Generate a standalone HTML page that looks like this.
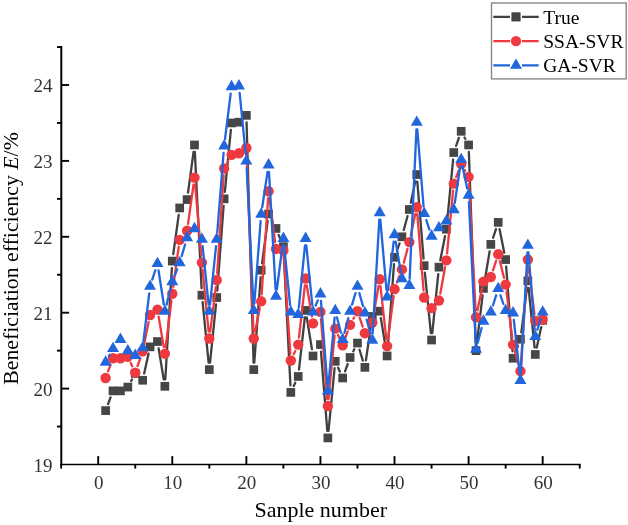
<!DOCTYPE html>
<html><head><meta charset="utf-8"><style>
html,body{margin:0;padding:0;background:#fff;}
body{width:628px;height:525px;overflow:hidden;font-family:"Liberation Serif",serif;}
svg{display:block;font-variant-ligatures:none;will-change:transform;}
text{font-variant-ligatures:none;}
</style></head><body><svg width="628" height="525" viewBox="0 0 628 525"><g stroke="#000" fill="none"><line x1="61.3" y1="46.1" x2="61.3" y2="465.3" stroke-width="2"/><line x1="60.3" y1="464.5" x2="580.6" y2="464.5" stroke-width="1.6"/><line x1="61.3" y1="388.60" x2="69.1" y2="388.60" stroke-width="1.9"/><line x1="61.3" y1="312.70" x2="69.1" y2="312.70" stroke-width="1.9"/><line x1="61.3" y1="236.80" x2="69.1" y2="236.80" stroke-width="1.9"/><line x1="61.3" y1="160.90" x2="69.1" y2="160.90" stroke-width="1.9"/><line x1="61.3" y1="85.00" x2="69.1" y2="85.00" stroke-width="1.9"/><line x1="61.3" y1="426.55" x2="57" y2="426.55" stroke-width="1.9"/><line x1="61.3" y1="350.65" x2="57" y2="350.65" stroke-width="1.9"/><line x1="61.3" y1="274.75" x2="57" y2="274.75" stroke-width="1.9"/><line x1="61.3" y1="198.85" x2="57" y2="198.85" stroke-width="1.9"/><line x1="61.3" y1="122.95" x2="57" y2="122.95" stroke-width="1.9"/><line x1="61.3" y1="47.05" x2="57" y2="47.05" stroke-width="1.9"/><line x1="98.20" y1="464.5" x2="98.20" y2="456.1" stroke-width="1.9"/><line x1="172.28" y1="464.5" x2="172.28" y2="456.1" stroke-width="1.9"/><line x1="246.36" y1="464.5" x2="246.36" y2="456.1" stroke-width="1.9"/><line x1="320.44" y1="464.5" x2="320.44" y2="456.1" stroke-width="1.9"/><line x1="394.52" y1="464.5" x2="394.52" y2="456.1" stroke-width="1.9"/><line x1="468.60" y1="464.5" x2="468.60" y2="456.1" stroke-width="1.9"/><line x1="542.68" y1="464.5" x2="542.68" y2="456.1" stroke-width="1.9"/><line x1="61.16" y1="464.5" x2="61.16" y2="468.6" stroke-width="1.9"/><line x1="135.24" y1="464.5" x2="135.24" y2="468.6" stroke-width="1.9"/><line x1="209.32" y1="464.5" x2="209.32" y2="468.6" stroke-width="1.9"/><line x1="283.40" y1="464.5" x2="283.40" y2="468.6" stroke-width="1.9"/><line x1="357.48" y1="464.5" x2="357.48" y2="468.6" stroke-width="1.9"/><line x1="431.56" y1="464.5" x2="431.56" y2="468.6" stroke-width="1.9"/><line x1="505.64" y1="464.5" x2="505.64" y2="468.6" stroke-width="1.9"/><line x1="579.72" y1="464.5" x2="579.72" y2="468.6" stroke-width="1.9"/></g><g font-family="Liberation Serif" font-size="19" fill="#333"><text x="52.5" y="471.82" text-anchor="end">19</text><text x="52.5" y="395.92" text-anchor="end">20</text><text x="52.5" y="320.02" text-anchor="end">21</text><text x="52.5" y="244.12" text-anchor="end">22</text><text x="52.5" y="168.22" text-anchor="end">23</text><text x="52.5" y="92.32" text-anchor="end">24</text><text x="98.70" y="488.9" text-anchor="middle">0</text><text x="172.78" y="488.9" text-anchor="middle">10</text><text x="246.86" y="488.9" text-anchor="middle">20</text><text x="320.94" y="488.9" text-anchor="middle">30</text><text x="395.02" y="488.9" text-anchor="middle">40</text><text x="469.10" y="488.9" text-anchor="middle">50</text><text x="543.18" y="488.9" text-anchor="middle">60</text></g><text x="320.7" y="516.5" font-family="Liberation Serif" font-size="22" text-anchor="middle" fill="#000">Sanple number</text><text transform="translate(18.2 258.5) rotate(-90)" font-family="Liberation Serif" font-size="21.8" text-anchor="middle" fill="#000">Beneficiation efficiency <tspan font-style="italic">E</tspan>/%</text><path d="M108.07 404.06L110.56 397.43M131.17 380.93L131.90 379.57M144.16 373.42L148.54 353.69M158.61 348.45L163.73 379.42M165.29 379.34L171.87 268.08M173.25 254.16L178.72 214.89M188.04 192.67L193.56 151.90M194.85 151.95L201.57 288.25M202.61 302.21L208.63 362.66M210.04 362.66L216.01 304.48M217.25 290.54L223.61 205.83M224.82 191.88L230.86 129.92M246.56 122.36L253.56 362.63M254.29 362.64L260.66 277.18M262.09 263.26L267.67 220.97M271.78 220.26L272.79 222.22M278.63 234.94L280.76 240.18M283.76 253.66L290.45 385.40M293.76 386.05L295.27 382.80M299.00 369.50L304.84 317.38M306.75 317.33L311.91 349.05M320.99 351.56L327.29 430.96M328.52 430.97L334.58 368.24M338.09 367.67L339.83 371.58M345.04 371.39L347.69 364.06M353.27 351.25L354.28 349.29M359.52 349.76L362.85 360.65M365.90 360.42L371.29 323.42M380.85 318.09L385.97 349.06M387.64 348.98L394.00 264.27M396.90 250.71L399.55 243.38M403.76 230.04L407.50 216.23M410.79 202.63L415.29 181.41M417.31 181.54L423.58 258.67M424.85 272.61L430.87 333.06M432.27 333.06L438.26 274.12M440.31 260.29L445.03 236.08M447.05 222.24L453.11 159.52M456.09 145.94L458.89 137.91M464.53 137.45L465.26 138.81M468.85 151.96L475.76 343.65M476.84 343.70L482.59 295.36M484.58 281.51L489.66 251.29M493.06 237.76L496.00 229.01M499.60 229.24L504.27 252.70M506.16 266.55L512.52 351.26M515.59 351.72L517.91 345.79M521.34 332.32L526.98 287.77M528.56 287.79L534.57 347.48M536.76 347.60L541.20 327.13" stroke="#404040" stroke-width="2.3" fill="none" stroke-linecap="round"/><g fill="#464646"><rect x="101.26" y="406.26" width="8.7" height="8.7"/><rect x="108.67" y="386.53" width="8.7" height="8.7"/><rect x="116.07" y="386.53" width="8.7" height="8.7"/><rect x="123.48" y="382.73" width="8.7" height="8.7"/><rect x="130.89" y="369.07" width="8.7" height="8.7"/><rect x="138.30" y="375.90" width="8.7" height="8.7"/><rect x="145.71" y="342.50" width="8.7" height="8.7"/><rect x="153.11" y="337.19" width="8.7" height="8.7"/><rect x="160.52" y="381.97" width="8.7" height="8.7"/><rect x="167.93" y="256.74" width="8.7" height="8.7"/><rect x="175.34" y="203.61" width="8.7" height="8.7"/><rect x="182.75" y="195.26" width="8.7" height="8.7"/><rect x="190.15" y="140.61" width="8.7" height="8.7"/><rect x="197.56" y="290.89" width="8.7" height="8.7"/><rect x="204.97" y="365.27" width="8.7" height="8.7"/><rect x="212.38" y="293.17" width="8.7" height="8.7"/><rect x="219.79" y="194.50" width="8.7" height="8.7"/><rect x="227.19" y="118.60" width="8.7" height="8.7"/><rect x="234.60" y="117.84" width="8.7" height="8.7"/><rect x="242.01" y="111.01" width="8.7" height="8.7"/><rect x="249.42" y="365.27" width="8.7" height="8.7"/><rect x="256.83" y="265.85" width="8.7" height="8.7"/><rect x="264.23" y="209.68" width="8.7" height="8.7"/><rect x="271.64" y="224.10" width="8.7" height="8.7"/><rect x="279.05" y="242.32" width="8.7" height="8.7"/><rect x="286.46" y="388.05" width="8.7" height="8.7"/><rect x="293.87" y="372.11" width="8.7" height="8.7"/><rect x="301.27" y="306.07" width="8.7" height="8.7"/><rect x="308.68" y="351.61" width="8.7" height="8.7"/><rect x="316.09" y="340.23" width="8.7" height="8.7"/><rect x="323.50" y="433.58" width="8.7" height="8.7"/><rect x="330.91" y="356.93" width="8.7" height="8.7"/><rect x="338.31" y="373.62" width="8.7" height="8.7"/><rect x="345.72" y="353.13" width="8.7" height="8.7"/><rect x="353.13" y="338.71" width="8.7" height="8.7"/><rect x="360.54" y="363.00" width="8.7" height="8.7"/><rect x="367.95" y="312.14" width="8.7" height="8.7"/><rect x="375.35" y="306.83" width="8.7" height="8.7"/><rect x="382.76" y="351.61" width="8.7" height="8.7"/><rect x="390.17" y="252.94" width="8.7" height="8.7"/><rect x="397.58" y="232.45" width="8.7" height="8.7"/><rect x="404.99" y="205.13" width="8.7" height="8.7"/><rect x="412.39" y="170.21" width="8.7" height="8.7"/><rect x="419.80" y="261.29" width="8.7" height="8.7"/><rect x="427.21" y="335.67" width="8.7" height="8.7"/><rect x="434.62" y="262.81" width="8.7" height="8.7"/><rect x="442.03" y="224.86" width="8.7" height="8.7"/><rect x="449.43" y="148.20" width="8.7" height="8.7"/><rect x="456.84" y="126.95" width="8.7" height="8.7"/><rect x="464.25" y="140.61" width="8.7" height="8.7"/><rect x="471.66" y="346.30" width="8.7" height="8.7"/><rect x="479.07" y="284.06" width="8.7" height="8.7"/><rect x="486.47" y="240.04" width="8.7" height="8.7"/><rect x="493.88" y="218.03" width="8.7" height="8.7"/><rect x="501.29" y="255.22" width="8.7" height="8.7"/><rect x="508.70" y="353.89" width="8.7" height="8.7"/><rect x="516.11" y="334.92" width="8.7" height="8.7"/><rect x="523.51" y="276.47" width="8.7" height="8.7"/><rect x="530.92" y="350.10" width="8.7" height="8.7"/><rect x="538.33" y="315.94" width="8.7" height="8.7"/></g><path d="M108.07 371.42L110.56 364.79M130.78 363.07L132.29 366.31M137.54 366.05L140.34 358.02M144.04 344.55L148.66 321.84M158.63 316.57L163.71 346.78M165.73 346.74L171.42 300.67M173.23 286.79L178.73 246.77M188.06 223.80L193.54 184.53M195.11 184.57L201.30 255.63M202.59 269.57L208.64 331.54M210.20 331.56L215.85 287.01M217.19 273.08L223.67 175.47M227.47 162.34L228.21 160.98M246.63 154.99L253.50 331.51M255.14 331.64L259.81 308.18M261.65 294.33L268.11 198.24M269.48 198.20L275.10 242.00M283.87 257.45L290.34 353.53M293.76 354.17L295.27 350.93M299.00 337.62L304.84 285.50M306.77 285.45L311.89 316.42M320.99 318.92L327.30 399.08M328.51 399.09L334.59 335.61M338.09 335.04L339.83 338.94M345.04 338.75L347.69 331.43M353.41 318.69L354.14 317.34M359.71 317.82L362.66 326.56M373.48 315.67L378.52 286.20M380.48 286.26L386.34 339.14M388.02 339.15L393.62 296.11M396.98 282.62L399.47 275.99M403.76 262.68L407.50 248.87M410.79 235.27L415.29 214.05M417.32 214.18L423.58 290.54M440.24 293.67L445.11 267.21M447.05 253.36L453.11 190.64M456.24 177.12L458.73 170.49M464.68 170.01L465.11 170.77M468.97 183.83L475.64 310.26M477.43 310.40L481.99 288.43M492.99 270.37L496.07 260.91M499.89 261.06L503.98 277.82M506.50 291.56L512.19 337.63M514.93 351.32L518.58 364.40M520.92 364.16L527.40 266.55M528.70 266.52L534.43 314.10" stroke="#ee3a3f" stroke-width="2.3" fill="none" stroke-linecap="round"/><g fill="#ee3a3f"><circle cx="105.61" cy="377.97" r="5.2"/><circle cx="113.02" cy="358.24" r="5.2"/><circle cx="120.42" cy="358.24" r="5.2"/><circle cx="127.83" cy="356.72" r="5.2"/><circle cx="135.24" cy="372.66" r="5.2"/><circle cx="142.65" cy="351.41" r="5.2"/><circle cx="150.06" cy="314.98" r="5.2"/><circle cx="157.46" cy="309.66" r="5.2"/><circle cx="164.87" cy="353.69" r="5.2"/><circle cx="172.28" cy="293.73" r="5.2"/><circle cx="179.69" cy="239.84" r="5.2"/><circle cx="187.10" cy="230.73" r="5.2"/><circle cx="194.50" cy="177.60" r="5.2"/><circle cx="201.91" cy="262.61" r="5.2"/><circle cx="209.32" cy="338.51" r="5.2"/><circle cx="216.73" cy="280.06" r="5.2"/><circle cx="224.14" cy="168.49" r="5.2"/><circle cx="231.54" cy="154.83" r="5.2"/><circle cx="238.95" cy="153.31" r="5.2"/><circle cx="246.36" cy="148.00" r="5.2"/><circle cx="253.77" cy="338.51" r="5.2"/><circle cx="261.18" cy="301.32" r="5.2"/><circle cx="268.58" cy="191.26" r="5.2"/><circle cx="275.99" cy="248.94" r="5.2"/><circle cx="283.40" cy="250.46" r="5.2"/><circle cx="290.81" cy="360.52" r="5.2"/><circle cx="298.22" cy="344.58" r="5.2"/><circle cx="305.62" cy="278.55" r="5.2"/><circle cx="313.03" cy="323.33" r="5.2"/><circle cx="320.44" cy="311.94" r="5.2"/><circle cx="327.85" cy="406.06" r="5.2"/><circle cx="335.26" cy="328.64" r="5.2"/><circle cx="342.66" cy="345.34" r="5.2"/><circle cx="350.07" cy="324.84" r="5.2"/><circle cx="357.48" cy="311.18" r="5.2"/><circle cx="364.89" cy="333.19" r="5.2"/><circle cx="372.30" cy="322.57" r="5.2"/><circle cx="379.70" cy="279.30" r="5.2"/><circle cx="387.11" cy="346.10" r="5.2"/><circle cx="394.52" cy="289.17" r="5.2"/><circle cx="401.93" cy="269.44" r="5.2"/><circle cx="409.34" cy="242.11" r="5.2"/><circle cx="416.74" cy="207.20" r="5.2"/><circle cx="424.15" cy="297.52" r="5.2"/><circle cx="431.56" cy="308.15" r="5.2"/><circle cx="438.97" cy="300.56" r="5.2"/><circle cx="446.38" cy="260.33" r="5.2"/><circle cx="453.78" cy="183.67" r="5.2"/><circle cx="461.19" cy="163.94" r="5.2"/><circle cx="468.60" cy="176.84" r="5.2"/><circle cx="476.01" cy="317.25" r="5.2"/><circle cx="483.42" cy="281.58" r="5.2"/><circle cx="490.82" cy="277.03" r="5.2"/><circle cx="498.23" cy="254.26" r="5.2"/><circle cx="505.64" cy="284.62" r="5.2"/><circle cx="513.05" cy="344.58" r="5.2"/><circle cx="520.46" cy="371.14" r="5.2"/><circle cx="527.86" cy="259.57" r="5.2"/><circle cx="535.27" cy="321.05" r="5.2"/><circle cx="542.68" cy="319.53" r="5.2"/></g><path d="M108.94 356.10L109.68 354.74M143.49 340.88L149.22 293.30M152.22 279.69L155.30 270.24M158.54 270.50L163.80 304.48M166.57 304.61L170.58 288.59M174.83 275.28L177.14 269.34M181.67 256.11L185.11 244.49M202.63 246.26L208.60 304.43M210.04 304.43L216.01 246.26M217.28 232.31L223.58 152.91M225.01 138.99L230.67 93.68M239.64 92.94L245.67 154.15M246.71 168.11L253.42 303.65M254.30 303.66L260.64 221.22M262.22 207.32L267.54 171.83M268.98 171.90L275.60 289.23M276.88 289.27L282.51 245.48M284.10 245.50L290.11 305.19M298.90 307.47L304.94 245.50M306.32 245.50L312.33 305.19M315.67 305.67L317.80 300.42M320.97 300.92L327.32 384.11M328.49 384.12L334.61 317.61M337.00 317.42L340.92 332.70M344.45 332.71L348.29 318.17M352.06 304.68L355.49 293.06M359.36 293.09L363.01 306.17M366.72 319.67L370.46 333.48M372.70 333.25L379.30 219.72M380.32 219.70L386.50 290.00M387.94 290.03L393.69 241.69M395.68 241.64L400.77 271.86M409.65 278.60L416.43 129.40M417.31 129.38L423.58 206.51M426.32 220.14L429.39 229.60M454.81 202.77L460.17 166.52M462.62 166.45L467.18 188.42M468.94 202.26L475.67 342.36M477.79 342.58L481.63 328.03M492.93 305.48L496.13 295.30M500.46 295.26L503.41 304.00M513.81 319.87L519.69 373.51M520.84 373.48L527.48 252.35M528.43 252.34L534.70 329.47M537.31 329.75L540.64 318.85" stroke="#2166dc" stroke-width="2.3" fill="none" stroke-linecap="round"/><g fill="#2166dc"><path d="M105.61 355.32L111.61 365.72L99.61 365.72Z"/><path d="M113.02 341.65L119.02 352.05L107.02 352.05Z"/><path d="M120.42 332.55L126.42 342.95L114.42 342.95Z"/><path d="M127.83 343.93L133.83 354.33L121.83 354.33Z"/><path d="M135.24 348.49L141.24 358.89L129.24 358.89Z"/><path d="M142.65 340.90L148.65 351.30L136.65 351.30Z"/><path d="M150.06 279.42L156.06 289.82L144.06 289.82Z"/><path d="M157.46 256.65L163.46 267.05L151.46 267.05Z"/><path d="M164.87 304.46L170.87 314.86L158.87 314.86Z"/><path d="M172.28 274.86L178.28 285.26L166.28 285.26Z"/><path d="M179.69 255.89L185.69 266.29L173.69 266.29Z"/><path d="M187.10 230.84L193.10 241.24L181.10 241.24Z"/><path d="M194.50 221.73L200.50 232.13L188.50 232.13Z"/><path d="M201.91 232.36L207.91 242.76L195.91 242.76Z"/><path d="M209.32 304.46L215.32 314.86L203.32 314.86Z"/><path d="M216.73 232.36L222.73 242.76L210.73 242.76Z"/><path d="M224.14 139.00L230.14 149.40L218.14 149.40Z"/><path d="M231.54 79.80L237.54 90.20L225.54 90.20Z"/><path d="M238.95 79.04L244.95 89.44L232.95 89.44Z"/><path d="M246.36 154.18L252.36 164.58L240.36 164.58Z"/><path d="M253.77 303.70L259.77 314.10L247.77 314.10Z"/><path d="M261.18 207.31L267.18 217.71L255.18 217.71Z"/><path d="M268.58 157.98L274.58 168.38L262.58 168.38Z"/><path d="M275.99 289.28L281.99 299.68L269.99 299.68Z"/><path d="M283.40 231.60L289.40 242.00L277.40 242.00Z"/><path d="M290.81 305.22L296.81 315.62L284.81 315.62Z"/><path d="M298.22 307.50L304.22 317.90L292.22 317.90Z"/><path d="M305.62 231.60L311.62 242.00L299.62 242.00Z"/><path d="M313.03 305.22L319.03 315.62L307.03 315.62Z"/><path d="M320.44 287.01L326.44 297.41L314.44 297.41Z"/><path d="M327.85 384.16L333.85 394.56L321.85 394.56Z"/><path d="M335.26 303.70L341.26 314.10L329.26 314.10Z"/><path d="M342.66 332.55L348.66 342.95L336.66 342.95Z"/><path d="M350.07 304.46L356.07 314.86L344.07 314.86Z"/><path d="M357.48 279.42L363.48 289.82L351.48 289.82Z"/><path d="M364.89 305.98L370.89 316.38L358.89 316.38Z"/><path d="M372.30 333.31L378.30 343.71L366.30 343.71Z"/><path d="M379.70 205.79L385.70 216.19L373.70 216.19Z"/><path d="M387.11 290.04L393.11 300.44L381.11 300.44Z"/><path d="M394.52 227.80L400.52 238.20L388.52 238.20Z"/><path d="M401.93 271.83L407.93 282.23L395.93 282.23Z"/><path d="M409.34 278.66L415.34 289.06L403.34 289.06Z"/><path d="M416.74 115.47L422.74 125.87L410.74 125.87Z"/><path d="M424.15 206.55L430.15 216.95L418.15 216.95Z"/><path d="M431.56 229.32L437.56 239.72L425.56 239.72Z"/><path d="M438.97 220.97L444.97 231.37L432.97 231.37Z"/><path d="M446.38 214.14L452.38 224.54L440.38 224.54Z"/><path d="M453.78 202.76L459.78 213.16L447.78 213.16Z"/><path d="M461.19 152.66L467.19 163.06L455.19 163.06Z"/><path d="M468.60 188.34L474.60 198.74L462.60 198.74Z"/><path d="M476.01 342.41L482.01 352.81L470.01 352.81Z"/><path d="M483.42 314.33L489.42 324.73L477.42 324.73Z"/><path d="M490.82 305.22L496.82 315.62L484.82 315.62Z"/><path d="M498.23 281.69L504.23 292.09L492.23 292.09Z"/><path d="M505.64 303.70L511.64 314.10L499.64 314.10Z"/><path d="M513.05 305.98L519.05 316.38L507.05 316.38Z"/><path d="M520.46 373.53L526.46 383.93L514.46 383.93Z"/><path d="M527.86 238.43L533.86 248.83L521.86 248.83Z"/><path d="M535.27 329.51L541.27 339.91L529.27 339.91Z"/><path d="M542.68 305.22L548.68 315.62L536.68 315.62Z"/></g><rect x="491.5" y="3" width="134.7" height="75.9" fill="#fff" stroke="#888" stroke-width="1.4"/><path d="M493.3 16.9L510 16.9M522 16.9L538.7 16.9" stroke="#404040" stroke-width="2.3"/><g fill="#464646" stroke="#3a3a3a" stroke-width="0.8"><rect x="511.90" y="12.80" width="8.2" height="8.2"/></g><text x="543.2" y="23.80" font-family="Liberation Serif" font-size="19.5" fill="#000">True</text><path d="M493.3 41.1L510 41.1M522 41.1L538.7 41.1" stroke="#ee3a3f" stroke-width="2.3"/><g fill="#ee3a3f"><circle cx="516.00" cy="41.10" r="5.2"/></g><text x="543.2" y="48.00" font-family="Liberation Serif" font-size="19.5" fill="#000">SSA-SVR</text><path d="M493.3 65.4L510 65.4M522 65.4L538.7 65.4" stroke="#2166dc" stroke-width="2.3"/><g fill="#2166dc"><path d="M516.00 58.47L522.00 68.87L510.00 68.87Z"/></g><text x="543.2" y="72.30" font-family="Liberation Serif" font-size="19.5" fill="#000">GA-SVR</text></svg></body></html>
